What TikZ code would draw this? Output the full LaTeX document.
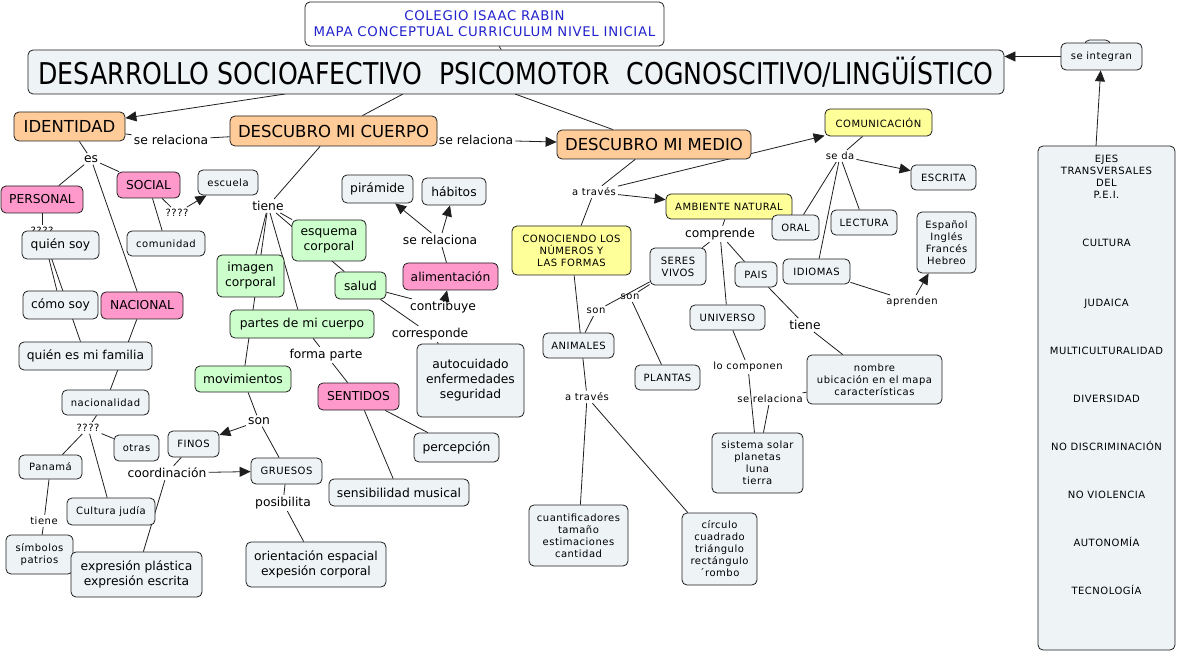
\documentclass[tikz,border=0pt]{standalone}
\usepackage{fontspec}
\setmainfont{DejaVu Sans}
\newfontfamily\dv{DejaVu Sans}
\newfontfamily\dvs[LetterSpace=5]{DejaVu Sans}
\newfontfamily\dvc[FakeStretch=0.84]{DejaVu Sans}
\usetikzlibrary{arrows.meta,backgrounds}
\definecolor{gfill}{RGB}{238,243,245}
\definecolor{ofill}{RGB}{255,204,153}
\definecolor{pfill}{RGB}{255,153,204}
\definecolor{grfill}{RGB}{204,255,204}
\definecolor{yfill}{RGB}{255,255,153}
\definecolor{lcol}{RGB}{30,30,30}
\definecolor{hblue}{RGB}{35,35,205}
\tikzset{
 bx/.style={draw=lcol, line width=0.8pt, rounded corners=5pt, inner sep=0pt, align=center},
 sz/.style 2 args={minimum width=#1pt, minimum height=#2pt},
 fs/.style={font=\fontsize{10}{12}\dvs},
 fm/.style={font=\fontsize{12.3}{15}\dv},
 fl/.style={font=\fontsize{16.5}{20}\dv},
 gbox/.style={bx, fill=gfill},
 wbox/.style={bx, fill=white},
 obox/.style={bx, fill=ofill, fl},
 pbox/.style={bx, fill=pfill},
 grbox/.style={bx, fill=grfill},
 ybox/.style={bx, fill=yfill},
 lab/.style={inner sep=2pt, fm},
 slab/.style={inner sep=2pt, fs},
 ln/.style={draw=lcol, line width=0.8pt},
 arr/.style={ln, -{Triangle[length=11pt,width=10pt]}}
}
\begin{document}
\begin{tikzpicture}[x=1pt,y=-1pt]
\useasboundingbox (0,0) rectangle (1178,652);
% header
\node[wbox,sz={359}{44},font=\fontsize{13.3}{16}\dvs,text=hblue] (colegio) at (484.5,24) {COLEGIO ISAAC RABIN\\MAPA CONCEPTUAL CURRICULUM NIVEL INICIAL};
\node[gbox,sz={976}{44},font=\fontsize{30}{36}\dvc] (title) at (516,72) {DESARROLLO SOCIOAFECTIVO\hspace{17pt}PSICOMOTOR\hspace{17pt}COGNOSCITIVO/LINGÜÍSTICO};
\node[gbox,sz={26}{20}] (integranbk) at (1097.5,50) {};
\node[gbox,sz={81}{27},fs] (integran) at (1101.5,56.5) {se integran};
\node[gbox,sz={137}{504}] (ejes) at (1106.5,398) {};
\node[fs,anchor=north,align=center,inner sep=0pt] (ejestxt) at (1106.5,155) {EJES\\TRANSVERSALES\\DEL\\P.E.I.\\[36pt]CULTURA\\[48pt]JUDAICA\\[36pt]MULTICULTURALIDAD\\[36pt]DIVERSIDAD\\[36pt]NO DISCRIMINACIÓN\\[36pt]NO VIOLENCIA\\[36pt]AUTONOMÍA\\[36pt]TECNOLOGÍA};
\coordinate (t1) at (285,94);
\coordinate (t2) at (403,94);
\coordinate (t3) at (515,94);
\coordinate (e1) at (1096,146);
% left cluster
\node[obox,sz={111}{29}] (identidad) at (69.5,126.5) {IDENTIDAD};
\node[obox,sz={207}{30}] (cuerpo) at (333.5,131) {DESCUBRO MI CUERPO};
\node[obox,sz={194}{29}] (medio) at (654,144.5) {DESCUBRO MI MEDIO};
\node[lab] (sr1) at (171,140) {se relaciona};
\node[lab] (sr2) at (476,140) {se relaciona};
\node[lab] (es) at (91,159) {es};
\node[pbox,sz={82}{27},fm] (personal) at (42,199.5) {PERSONAL};
\node[pbox,sz={63}{26},fm] (social) at (148.5,185) {SOCIAL};
\node[gbox,sz={60}{25},fs] (escuela) at (228,182.5) {escuela};
\node[slab] (q4b) at (177,213) {????};
\node[gbox,sz={78}{25},fs] (comunidad) at (166,243.5) {comunidad};
\node[slab] (q4a) at (42,231) {????};
\node[gbox,sz={77}{28},fm] (quiensoy) at (60.5,245) {quién soy};
\node[gbox,sz={75}{28},fm] (comosoy) at (60.5,305) {cómo soy};
\node[pbox,sz={82}{27},fm] (nacional) at (142,305.5) {NACIONAL};
\node[gbox,sz={133}{28},fm] (familia) at (85.5,356) {quién es mi familia};
\node[gbox,sz={87}{25},fs] (nacionalidad) at (105.5,402.5) {nacionalidad};
\node[slab] (q4c) at (88,428) {????};
\node[gbox,sz={45}{26},fs] (otras) at (136.5,448) {otras};
\node[gbox,sz={63}{24},fs] (panama) at (50.5,467) {Panamá};
\node[slab] (tiene1) at (44,521) {tiene};
\node[gbox,sz={67}{39},fs] (simbolos) at (39.5,554.5) {símbolos\\patrios};
\node[gbox,sz={88}{27},fs] (cultura) at (111,511.5) {Cultura judía};
\node[gbox,sz={131}{45},fm] (expresion) at (136.5,574.5) {expresión plástica\\expresión escrita};
\node[gbox,sz={51}{26},fs] (finos) at (193.5,444) {FINOS};
\node[lab] (coord) at (167,473) {coordinación};
\node[gbox,sz={71}{26},fs] (gruesos) at (286.5,471) {GRUESOS};
\node[grbox,sz={96}{26},fm] (movimientos) at (243,379) {movimientos};
\node[lab] (son1) at (259,421) {son};
\node[lab] (posibilita) at (283,503) {posibilita};
\node[gbox,sz={140}{45},fm] (orientacion) at (316,564.5) {orientación espacial\\expesión corporal};
\node[lab] (tiene2) at (268,206) {tiene};
\node[grbox,sz={67}{42},fm] (imagen) at (250.5,276) {imagen\\corporal};
\node[grbox,sz={74}{41},fm] (esquema) at (329,240.5) {esquema\\corporal};
\node[grbox,sz={51}{27},fm] (salud) at (360.5,285.5) {salud};
\node[grbox,sz={144}{28},fm] (partes) at (302,324) {partes de mi cuerpo};
\node[lab] (formaparte) at (326,355) {forma parte};
\node[pbox,sz={81}{27},fm] (sentidos) at (358.5,396.5) {SENTIDOS};
\node[gbox,sz={85}{29},fm] (percepcion) at (456.5,447.5) {percepción};
\node[gbox,sz={140}{27},fm] (sensibilidad) at (399,492.5) {sensibilidad musical};
\node[lab] (contribuye) at (443,307) {contribuye};
\node[lab] (corresponde) at (430,334) {corresponde};
\node[pbox,sz={95}{27},fm] (alimentacion) at (450.5,276.5) {alimentación};
\node[lab] (sr3) at (440,240) {se relaciona};
\node[gbox,sz={71}{28},fm] (piramide) at (377.5,189) {pirámide};
\node[gbox,sz={64}{27},fm] (habitos) at (454,191.5) {hábitos};
\node[gbox,sz={107}{73},fm] (autocuidado) at (470.5,380.5) {autocuidado\\enfermedades\\seguridad};
% right cluster
\node[slab] (atraves1) at (594,192) {a través};
\node[ybox,sz={126}{25},fs] (ambiente) at (729,206.5) {AMBIENTE NATURAL};
\node[ybox,sz={119}{49},fs] (conociendo) at (571.5,250.5) {CONOCIENDO LOS\\NÚMEROS Y\\LAS FORMAS};
\node[ybox,sz={107}{27},fs] (comunicacion) at (878.5,122.5) {COMUNICACIÓN};
\node[slab] (seda) at (840,156) {se da};
\node[gbox,sz={65}{25},fs] (escrita) at (943.5,177.5) {ESCRITA};
\node[gbox,sz={66}{25},fs] (lectura) at (864,222.5) {LECTURA};
\node[gbox,sz={67}{25},fs] (idiomas) at (816.5,271.5) {IDIOMAS};
\node[slab] (aprenden) at (912,302) {aprenden};
\node[gbox,sz={59}{61},fs] (lenguas) at (946.5,242.5) {Español\\Inglés\\Francés\\Hebreo};
\node[lab] (comprende) at (720,234) {comprende};
\node[gbox,sz={47}{25},fs] (oral) at (795.5,227.5) {ORAL};
\node[gbox,sz={56}{37},fs] (seres) at (678,266.5) {SERES\\VIVOS};
\node[gbox,sz={42}{25},fs] (pais) at (756,274.5) {PAIS};
\node[gbox,sz={75}{25},fs] (universo) at (727.5,317.5) {UNIVERSO};
\node[lab] (tiene3) at (805,325) {tiene};
\node[gbox,sz={135}{49},fs] (nombre) at (874.5,379.5) {nombre\\ubicación en el mapa\\características};
\node[slab] (locomponen) at (748,367) {lo componen};
\node[slab] (sr4) at (770,399) {se relaciona};
\node[gbox,sz={91}{60},fs] (sistema) at (757.5,463) {sistema solar\\planetas\\luna\\tierra};
\node[slab] (son2) at (596,311) {son};
\node[slab] (son3) at (630,297) {son};
\node[gbox,sz={71}{25},fs] (animales) at (578.5,345.5) {ANIMALES};
\node[gbox,sz={65}{25},fs] (plantas) at (667.5,377.5) {PLANTAS};
\node[slab] (atraves2) at (587,397) {a través};
\node[gbox,sz={99}{61},fs] (cuantif) at (578.5,535.5) {cuantificadores\\tamaño\\estimaciones\\cantidad};
\node[gbox,sz={75}{72},fs] (circulo) at (719.5,549) {círculo\\cuadrado\\triángulo\\rectángulo\\´rombo};
% connectors
\begin{pgfonlayer}{background}
\draw[ln] (colegio) -- (title);
\draw[arr] (t1) -- (identidad);
\draw[ln] (t2) -- (cuerpo);
\draw[ln] (t3) -- (medio);
\draw[arr] (integran) -- (title.east |- integran);
\draw[arr] (e1) -- (integran);
\draw[ln] (identidad) -- (sr1);
\draw[ln] (sr1) -- (cuerpo);
\draw[ln] (cuerpo) -- (sr2);
\draw[arr] (sr2) -- (medio);
\draw[ln] (identidad) -- (es);
\draw[ln] (es) -- (personal);
\draw[ln] (es) -- (social);
\draw[ln] (es) -- (nacional);
\draw[ln] (personal) -- (q4a);
\draw[ln] (q4a) -- (comosoy);
\draw[ln] (q4a) -- (familia);
\draw[ln] (social) -- (q4b);
\draw[arr] (q4b) -- (escuela);
\draw[ln] (social) -- (comunidad);
\draw[ln] (nacional) -- (nacionalidad);
\draw[ln] (nacionalidad) -- (q4c);
\draw[ln] (q4c) -- (panama);
\draw[ln] (q4c) -- (otras);
\draw[ln] (q4c) -- (cultura);
\draw[ln] (panama) -- (tiene1);
\draw[ln] (tiene1) -- (simbolos);
\draw[ln] (finos) -- (coord);
\draw[arr] (coord) -- (gruesos);
\draw[ln] (coord) -- (expresion);
\draw[ln] (movimientos) -- (son1);
\draw[arr] (son1) -- (finos);
\draw[ln] (son1) -- (gruesos);
\draw[ln] (gruesos) -- (posibilita);
\draw[ln] (posibilita) -- (orientacion);
\draw[ln] (cuerpo) -- (tiene2);
\draw[ln] (tiene2) -- (imagen);
\draw[ln] (tiene2) -- (movimientos);
\draw[ln] (tiene2) -- (partes);
\draw[ln] (tiene2) -- (esquema);
\draw[ln] (tiene2) -- (salud);
\draw[ln] (partes) -- (formaparte);
\draw[ln] (formaparte) -- (sentidos);
\draw[ln] (sentidos) -- (percepcion);
\draw[ln] (sentidos) -- (sensibilidad);
\draw[ln] (salud) -- (contribuye);
\draw[arr] (contribuye) -- (alimentacion);
\draw[ln] (salud) -- (corresponde);
\draw[ln] (corresponde) -- (autocuidado);
\draw[ln] (alimentacion) -- (sr3);
\draw[arr] (sr3) -- (piramide);
\draw[arr] (sr3) -- (habitos);
\draw[ln] (medio) -- (atraves1);
\draw[arr] (atraves1) -- (ambiente);
\draw[ln] (atraves1) -- (conociendo);
\draw[arr] (atraves1) -- (comunicacion);
\draw[ln] (ambiente) -- (comprende);
\draw[ln] (comprende) -- (seres);
\draw[ln] (comprende) -- (pais);
\draw[ln] (comprende) -- (universo);
\draw[ln] (comunicacion) -- (seda);
\draw[arr] (seda) -- (escrita);
\draw[ln] (seda) -- (oral);
\draw[ln] (seda) -- (lectura);
\draw[ln] (seda) -- (idiomas);
\draw[ln] (idiomas) -- (aprenden);
\draw[arr] (aprenden) -- (lenguas);
\draw[ln] (seres) -- (son2);
\draw[ln] (son2) -- (animales);
\draw[ln] (seres) -- (son3);
\draw[ln] (son3) -- (plantas);
\draw[ln] (conociendo) -- (atraves2);
\draw[ln] (atraves2) -- (cuantif);
\draw[ln] (atraves2) -- (circulo);
\draw[ln] (pais) -- (tiene3);
\draw[ln] (tiene3) -- (nombre);
\draw[ln] (universo) -- (locomponen);
\draw[ln] (locomponen) -- (sistema);
\draw[ln] (sr4) -- (sistema);
\draw[ln] (sr4) -- (nombre);
\end{pgfonlayer}
\end{tikzpicture}
\end{document}
